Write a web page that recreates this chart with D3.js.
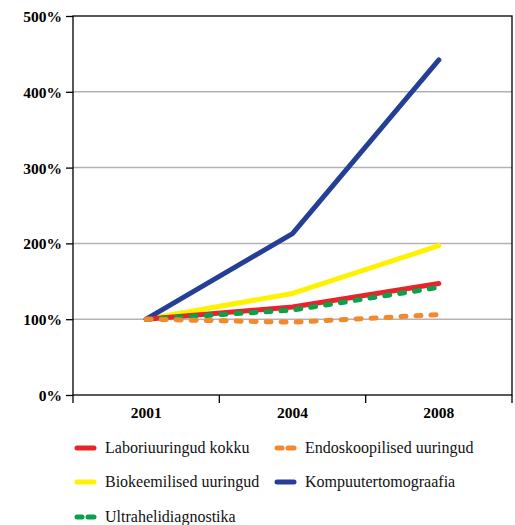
<!DOCTYPE html>
<html><head><meta charset="utf-8">
<script src="https://cdn.jsdelivr.net/npm/d3@7"></script>
<style>body{margin:0;background:#fff}svg{display:block}text{font-family:"Liberation Serif","DejaVu Serif",serif}</style>
</head><body>
<script>
const years = ["2001","2004","2008"];
const yTicks = [0,100,200,300,400,500];
const seriesNames = ["Laboriuuringud kokku","Endoskoopilised uuringud","Biokeemilised uuringud","Kompuutertomograafia","Ultrahelidiagnostika"];
const seriesColors = ["#e8242b","#f4892c","#fff200","#243f95","#0ba04b"];
const seriesDashed = [false,true,false,false,true];
const labor = [100,116,147];
const endo = [100,96,106];
const bio = [100,134,197];
const kompu = [100,213,442];
const ultra = [100,112,142];
const values = [labor,endo,bio,kompu,ultra];
const drawOrder = [2,3,0,4,1];

const W=515,H=525;
const svg=d3.select("body").append("svg").attr("width",W).attr("height",H);
const L=73,R=512,T=16,B=395;
const x=d3.scaleBand().domain(years).range([L,R]);
const y=d3.scaleLinear().domain([0,500]).range([B,T]);

// gridlines
svg.append("g").selectAll("line").data(yTicks.filter(d=>d>0&&d<500)).join("line")
 .attr("x1",L).attr("x2",R).attr("y1",d=>y(d)).attr("y2",d=>y(d))
 .attr("stroke","#b3b3b3").attr("stroke-width",1.5);

// lines
const line=d3.line().x((d,i)=>x(years[i])+x.bandwidth()/2).y(d=>y(d));
drawOrder.forEach(k=>{
  svg.append("path").datum(values[k]).attr("d",line).attr("fill","none")
   .attr("stroke",seriesColors[k]).attr("stroke-width",5)
   .attr("stroke-linecap","round").attr("stroke-linejoin","round")
   .attr("stroke-dasharray",seriesDashed[k]?"5,10":null);
});

// frame
svg.append("rect").attr("x",L).attr("y",T).attr("width",R-L).attr("height",B-T)
 .attr("fill","none").attr("stroke","#000").attr("stroke-width",1.3);

// y axis
const ya=svg.append("g").attr("transform",`translate(${L},0)`)
 .call(d3.axisLeft(y).tickValues(yTicks).tickFormat(d=>d+"%").tickSize(7).tickPadding(4));
ya.select(".domain").remove();
ya.selectAll("line").attr("stroke","#000").attr("stroke-width",1.3);
ya.selectAll("text").attr("font-size",15.5).attr("font-weight","bold").attr("fill","#000").attr("dy","0.35em");

// x axis
const xa=svg.append("g").attr("transform",`translate(0,${B})`)
 .call(d3.axisBottom(x).tickSize(0).tickPadding(12));
xa.select(".domain").remove();
xa.selectAll("text").attr("font-size",15.5).attr("font-weight","bold").attr("fill","#000");
svg.append("g").selectAll("line").data([L,x("2004"),x("2008"),R]).join("line")
 .attr("x1",d=>d).attr("x2",d=>d).attr("y1",B).attr("y2",B+8)
 .attr("stroke","#000").attr("stroke-width",1.3);

// legend
const legPos=[[75,448],[275,448],[75,482],[275,482],[75,517]];
seriesNames.forEach((n,k)=>{
  const [lx,ly]=legPos[k];
  const g=svg.append("g").attr("transform",`translate(${lx},${ly})`);
  if(seriesDashed[k]){
    g.append("line").attr("x1",2).attr("x2",7).attr("stroke",seriesColors[k]).attr("stroke-width",5).attr("stroke-linecap","round");
    g.append("line").attr("x1",13).attr("x2",19).attr("stroke",seriesColors[k]).attr("stroke-width",5).attr("stroke-linecap","round");
  } else {
    g.append("line").attr("x1",2).attr("x2",19).attr("stroke",seriesColors[k]).attr("stroke-width",5).attr("stroke-linecap","round");
  }
  g.append("text").attr("x",30).attr("y",0).attr("dy","0.32em").attr("font-size",16).attr("fill","#111").text(n);
});
</script>
</body></html>
